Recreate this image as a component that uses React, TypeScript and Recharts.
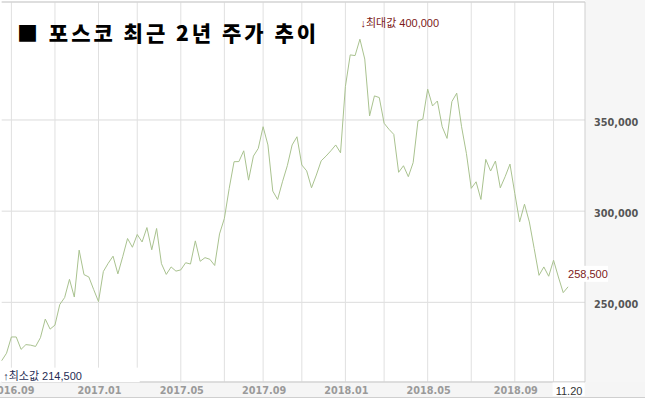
import React from 'react';
import { LineChart, Line, XAxis, YAxis, CartesianGrid, ReferenceLine, ReferenceDot } from 'recharts';

// weekly closing prices (KRW)
const prices = [
  218000, 222100, 231000, 231000, 224200, 226800, 226500, 225800, 230600, 240800,
  235300, 237500, 248800, 252600, 262600, 252900, 278600, 265200, 263900, 257000,
  250400, 266900, 271400, 275300, 265600, 275000, 285000, 280200, 287200, 283100,
  291000, 278800, 290500, 271200, 265300, 269400, 267100, 267800, 271700, 271000,
  283700, 272500, 274500, 273600, 270200, 287500, 296000, 312500, 327100, 327200,
  333100, 317000, 330200, 334400, 346300, 336300, 311000, 306400, 316100, 324900,
  336300, 340800, 325300, 322100, 312800, 319800, 327600, 330200, 333100, 336300,
  332000, 368300, 385700, 385300, 394300, 383400, 352200, 363200, 362300, 348200,
  344900, 342100, 321300, 324900, 318900, 326600, 349500, 350500, 366900, 357700,
  360400, 346300, 339900, 360100, 364700, 346300, 331700, 312500, 316100, 306400,
  328400, 322000, 327500, 312800, 318900, 325800, 309700, 294100, 303800, 294100,
  279500, 264800, 269400, 264300, 273100, 263900, 255300, 258500,
];

// week index of the first week of every second month (vertical grid)
const gridWeeks = [2, 11, 20, 28, 37, 46, 54, 62, 71, 79, 88, 97, 106, 114];
const tickWeeks = [2, 20, 37, 54, 71, 88, 106, 117];
const tickLabels = ['2016.09', '2017.01', '2017.05', '2017.09', '2018.01', '2018.05', '2018.09', '11.20'];
const priceTicks = [250000, 300000, 350000];
const priceDomain = [206300, 414700];
const weekDomainEnd = 120.5;

const title = '■ 포스코 최근 2년 주가 추이';
const maxText = '↓최대값 400,000';
const minText = '↑최소값 214,500';
const lastText = '258,500';

const data = prices.map((price, week) => ({ week, price }));
const maxIdx = prices.indexOf(Math.max(...prices));
const lastIdx = prices.length - 1;

const labelFont = "'Liberation Sans', 'Noto Sans CJK KR', sans-serif";
const axisFont = "'DejaVu Sans', sans-serif";

const fmt = (v: number) => v.toLocaleString('en-US');

const XTick = (props: any) => {
  const { x, y, payload } = props;
  const idx = tickWeeks.indexOf(payload.value);
  const text = tickLabels[idx];
  if (payload.value === lastIdx) {
    return (
      <g>
        <rect x={x - 15.5} y={y - 7.5} width={32} height={13.5} fill="#fff" />
        <text x={x + 1} y={y + 4.5} textAnchor="middle" fontFamily={labelFont} fontSize={11} fill="#333">
          {text}
        </text>
      </g>
    );
  }
  return (
    <text x={x + 1} y={y + 4.3} textAnchor="middle" fontFamily={axisFont} fontWeight="bold" fontSize={9.7} fill="#9a9a9a">
      {text}
    </text>
  );
};

const YTick = (props: any) => {
  const { x, y, payload } = props;
  return (
    <text x={x} y={y + 5.6} textAnchor="start" fontFamily={axisFont} fontWeight="bold" fontSize={9.7} fill="#555">
      {fmt(payload.value)}
    </text>
  );
};

const MaxLabel = (props: any) => {
  const { x, y } = props.viewBox;
  return (
    <text x={x + 0.5} y={y - 12.5} fontFamily={labelFont} fontSize={11} fill="#7d1a1a">
      {maxText}
    </text>
  );
};

const MinLabel = (props: any) => {
  const { x, y } = props.viewBox;
  return (
    <g>
      <rect x={x} y={y + 7} width={138} height={14.5} fill="#fff" />
      <text x={x + 1.5} y={y + 19} fontFamily={labelFont} fontSize={11} fill="#1f2d55">
        {minText}
      </text>
    </g>
  );
};

const LastLabel = (props: any) => {
  const { x, y } = props.viewBox;
  return (
    <g>
      <rect x={x - 2} y={y - 21} width={42} height={16} fill="#fff" />
      <text x={x} y={y - 9} fontFamily={labelFont} fontSize={11} fill="#7d1a1a">
        {lastText}
      </text>
    </g>
  );
};

export default function App() {
  return (
    <div style={{ position: 'absolute', left: 0, top: 0, width: 645, height: 402, background: '#fff', overflow: 'hidden' }}>
      <div style={{ position: 'absolute', left: 585, top: 0, width: 60, height: 397, background: '#f6f6f6' }} />
      <div style={{ position: 'absolute', left: 0, top: 382, width: 645, height: 15, background: '#f5f5f5', borderBottom: '1px solid #cfcfcf' }} />
      <div style={{ position: 'absolute', left: 0, top: 0 }}>
        <LineChart width={645} height={402} data={data} margin={{ top: 2, right: 0, bottom: 0, left: 1.7 }}>
          <CartesianGrid vertical={false} stroke="#dcdcdc" />
          {gridWeeks.map((w) => (
            <ReferenceLine key={w} x={w} stroke="#e0e0e0" />
          ))}
          <ReferenceLine y={priceDomain[1]} stroke="#cfcfcf" />
          <ReferenceLine x={weekDomainEnd} stroke="#cfcfcf" />
          <XAxis
            dataKey="week"
            type="number"
            domain={[0, weekDomainEnd]}
            ticks={tickWeeks}
            interval={0}
            height={20}
            tickSize={0}
            tickMargin={8}
            axisLine={{ stroke: '#cfcfcf' }}
            tickLine={false}
            tick={<XTick />}
          />
          <YAxis
            orientation="right"
            width={60}
            domain={priceDomain}
            ticks={priceTicks}
            allowDataOverflow
            tickSize={0}
            tickMargin={9}
            axisLine={false}
            tickLine={false}
            tick={<YTick />}
          />
          <Line
            type="linear"
            dataKey="price"
            stroke="#a9c28f"
            strokeWidth={1}
            dot={false}
            isAnimationActive={false}
          />
          <ReferenceDot x={maxIdx} y={prices[maxIdx]} r={0.01} fill="none" stroke="none" label={<MaxLabel />} />
          <ReferenceDot x={0} y={prices[0]} r={0.01} fill="none" stroke="none" label={<MinLabel />} />
          <ReferenceDot x={lastIdx} y={prices[lastIdx]} r={0.01} fill="none" stroke="none" label={<LastLabel />} />
        </LineChart>
      </div>
      <svg width={645} height={60} style={{ position: 'absolute', left: 0, top: 0, pointerEvents: 'none' }}>
        <text x={17} y={41} fontFamily="'Noto Sans CJK KR', sans-serif" fontWeight={900} fontSize={21} letterSpacing={3} fill="#000">
          {title}
        </text>
      </svg>
    </div>
  );
}
